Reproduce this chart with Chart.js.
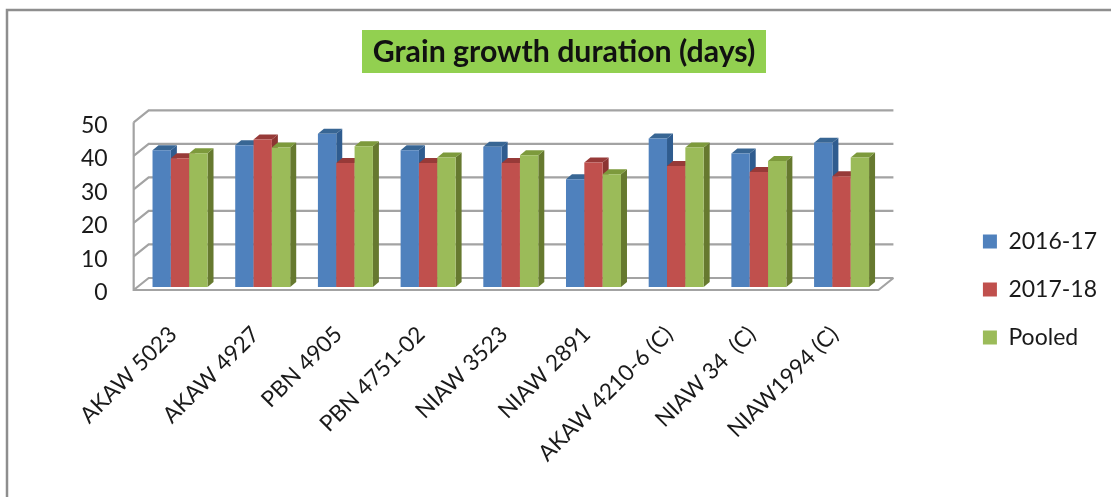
<!DOCTYPE html>
<html>
<head>
<meta charset="utf-8">
<style>
  html, body { margin: 0; padding: 0; background: #fff; }
  #wrap { width: 1111px; height: 497px; }
</style>
<script src="https://cdn.jsdelivr.net/npm/chart.js@4"></script>
</head>
<body>
<div id="wrap"><canvas id="chart" width="1111" height="497"></canvas></div>
<script>
const categories = ["AKAW 5023", "AKAW 4927", "PBN 4905", "PBN 4751-02", "NIAW 3523", "NIAW 2891", "AKAW 4210-6 (C)", "NIAW 34  (C)", "NIAW1994 (C)"];
const season1617 = [40.8, 42.3, 45.7, 40.8, 41.8, 32.1, 44.3, 39.8, 43];
const season1718 = [38.4, 44, 37, 37, 37, 37.1, 36.1, 34.3, 33];
const pooled = [39.9, 41.6, 42, 38.6, 39.3, 33.6, 41.6, 37.6, 38.6];

const FONT = "Lato";
const GRID = "#a3a3a3";

// side and top faces for the fake 3D look
const faces = [
  { side: "#2f5c8f", top: "#386694" },
  { side: "#8c3432", top: "#973a38" },
  { side: "#66792f", top: "#7d9a3c" },
];
const depth = { x: 6, y: 5 };

const scene = {
  id: "scene",
  afterLayout(chart) {
    // title and legend sit apart from the plot in the original
    const t = chart.titleBlock;
    t.left += 23; t.right += 23;
    const l = chart.legend;
    l.left += 75; l.right += 75;
    l.top += 41; l.bottom += 41;
  },
  beforeDraw(chart) {
    const { ctx, chartArea: a, scales } = chart;
    const y = scales.y;
    ctx.save();
    // outer frame
    ctx.strokeStyle = "#8e8e8e";
    ctx.lineWidth = 2.5;
    ctx.beginPath();
    ctx.moveTo(7, 497);
    ctx.lineTo(7, 10);
    ctx.lineTo(1111, 10);
    ctx.stroke();
    // title background
    ctx.fillStyle = "#92d050";
    ctx.fillRect(362, 30, 404, 43);
    // walls and floor
    ctx.strokeStyle = GRID;
    ctx.lineWidth = 2.2;
    const frontL = a.left - 5, backL = a.left + 10, backR = a.right + 10.5, frontR = a.right - 4.5;
    y.ticks.forEach((tick) => {
      const p = y.getPixelForValue(tick.value);
      ctx.beginPath();
      ctx.moveTo(frontL, p + 3);
      ctx.lineTo(backL, p - 9);
      ctx.lineTo(backR, p - 9);
      ctx.stroke();
    });
    const p0 = y.getPixelForValue(0), pMax = y.getPixelForValue(y.max);
    ctx.beginPath();
    ctx.moveTo(frontL, pMax + 3);
    ctx.lineTo(frontL, p0 + 3);
    ctx.lineTo(frontR, p0 + 3);
    ctx.lineTo(backR, p0 - 9);
    ctx.stroke();
    ctx.restore();
  },
  beforeDatasetsDraw(chart) {
    const { ctx } = chart;
    // blue first so each front face covers the side of the bar to its left
    chart.data.datasets.forEach((ds, i) => {
      chart.getDatasetMeta(i).data.forEach((bar) => {
        const { x, y, base, width } = bar.getProps(["x", "y", "base", "width"], true);
        const r = x + width / 2, l = x - width / 2;
        ctx.fillStyle = faces[i].side;
        ctx.beginPath();
        ctx.moveTo(r, y);
        ctx.lineTo(r + depth.x, y - depth.y);
        ctx.lineTo(r + depth.x, base - depth.y);
        ctx.lineTo(r, base);
        ctx.closePath();
        ctx.fill();
        ctx.fillStyle = faces[i].top;
        ctx.beginPath();
        ctx.moveTo(l, y);
        ctx.lineTo(l + depth.x, y - depth.y);
        ctx.lineTo(r + depth.x, y - depth.y);
        ctx.lineTo(r, y);
        ctx.closePath();
        ctx.fill();
        bar.draw(ctx);
      });
    });
    return false;
  },
};

new Chart(document.getElementById("chart"), {
  type: "bar",
  data: {
    labels: categories,
    datasets: [
      { label: "2016-17", data: season1617, backgroundColor: "#4f81bd" },
      { label: "2017-18", data: season1718, backgroundColor: "#c0504d" },
      { label: "Pooled", data: pooled, backgroundColor: "#9bbb59" },
    ],
  },
  options: {
    responsive: false,
    animation: false,
    categoryPercentage: 0.665,
    barPercentage: 1,
    layout: { padding: { left: 50, right: 79, top: 0, bottom: 0 } },
    scales: {
      x: {
        grid: { display: false },
        border: { display: false },
        afterFit(scale) { scale.height = 210; },
        ticks: {
          minRotation: 45,
          maxRotation: 45,
          autoSkip: false,
          padding: 26,
          labelOffset: -7,
          color: "#1a1a1a",
          font: { family: FONT, size: 22.5 },
        },
      },
      y: {
        min: 0,
        max: 50,
        grid: { display: false, drawTicks: false },
        border: { display: false },
        ticks: {
          stepSize: 10,
          padding: 31,
          labelOffset: 6,
          color: "#1a1a1a",
          font: { family: FONT, size: 23 },
        },
      },
    },
    plugins: {
      title: {
        display: true,
        text: "Grain growth duration (days)",
        color: "#111",
        padding: { top: 35.5, bottom: 50.5 },
        font: { family: FONT, size: 30.3, weight: "bold", lineHeight: 1.1 },
      },
      legend: {
        position: "right",
        labels: {
          boxWidth: 14,
          boxHeight: 14,
          padding: 25,
          color: "#1a1a1a",
          font: { family: FONT, size: 23 },
        },
      },
      tooltip: { enabled: false },
    },
  },
  plugins: [scene],
});
</script>
</body>
</html>
